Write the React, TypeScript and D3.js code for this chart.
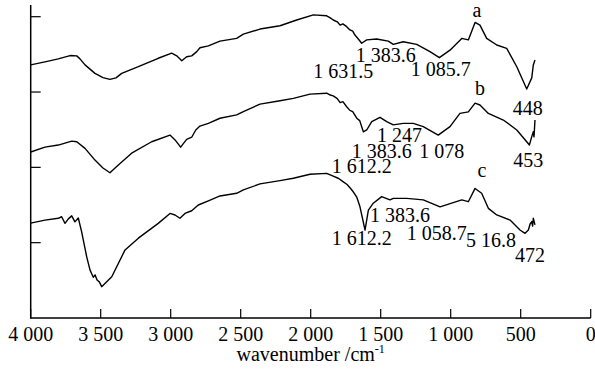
import React from "react";
import * as d3 from "d3";

// wavenumber (cm-1) and relative transmittance
const waveA = [4000,3898,3803,3719,3671,3648,3612,3541,3484,3434,3391,3350,3231,3089,2993,2957,2921,2886,2850,2814,2791,2731,2648,2529,2481,2362,2219,2100,1981,1886,1860,1839,1810,1790,1770,1743,1720,1700,1684,1660,1636,1600,1529,1446,1410,1339,1243,1148,1081,1005,921,874,826,791,743,671,600,528,457,421,410,398];
const valA  = [84.0,85.0,86.0,87.1,87.0,86.0,84.0,81.2,79.8,79.2,79.7,81.2,83.4,86.2,87.9,87.0,85.4,86.7,87.0,88.4,89.7,90.3,91.9,92.8,94.2,95.9,97.0,98.9,100.6,100.3,99.6,98.9,98.3,97.2,97.6,96.7,95.6,95.2,93.9,92.6,91.2,92.3,92.6,91.9,90.8,91.7,90.8,88.4,86.4,88.9,92.8,92.3,98.1,97.2,92.8,90.6,89.5,83.4,76.0,79.7,84.0,85.6];

const waveB = [4000,3898,3803,3707,3671,3612,3541,3484,3434,3374,3279,3136,3005,2969,2929,2886,2850,2821,2791,2731,2648,2529,2481,2362,2219,2124,2005,1886,1860,1839,1810,1790,1770,1743,1720,1700,1671,1650,1624,1600,1564,1505,1457,1410,1339,1267,1196,1089,1005,934,874,826,791,731,624,528,457,438,421,410,405,398];
const valB  = [55.1,56.7,57.4,58.7,58.5,56.3,52.4,49.8,48.2,50.8,54.7,58.5,60.7,59.1,56.7,59.3,60.0,62.4,63.7,64.6,66.3,67.4,68.5,71.0,72.1,72.9,74.3,74.6,74.0,73.7,72.8,71.5,71.8,70.1,68.9,68.5,66.3,65.5,61.8,62.4,65.2,66.6,65.2,64.1,64.6,64.6,63.5,60.7,63.5,67.9,68.4,71.3,70.7,67.9,65.7,62.4,58.5,57.4,60.2,61.8,60.1,65.7];

const waveC = [4000,3898,3803,3779,3755,3731,3707,3684,3660,3636,3600,3576,3553,3540,3526,3510,3493,3421,3326,3231,3089,3005,2969,2934,2898,2850,2803,2731,2648,2529,2481,2362,2219,2124,2005,1886,1839,1800,1767,1740,1715,1696,1670,1648,1612,1588,1553,1493,1434,1410,1314,1196,1076,993,921,874,826,779,731,671,576,505,469,445,433,421,415,410,398];
const valC  = [31.5,32.5,33.1,33.6,31.4,32.9,33.9,31.9,33.2,28.6,20.3,15.9,13.5,14.3,12.6,12.0,10.4,13.7,22.6,26.5,31.4,34.7,34.2,33.1,34.7,35.6,37.5,38.9,40.5,41.4,42.5,44.5,45.6,46.4,47.7,48.0,47.1,46.3,45.2,44.3,43.0,41.9,40.0,36.9,29.2,35.8,38.1,40.3,39.2,39.7,39.7,39.2,36.9,38.1,39.2,38.6,43.0,41.4,36.4,34.2,32.5,29.2,28.1,29.2,31.2,32.0,30.5,33.1,30.9];

const xTicks = [4000,3500,3000,2500,2000,1500,1000,500,0];
const yTicks = [25,50,75,100];

// annotation labels: text, wavenumber, value, anchor
const labelText = ["a","1 383.6","1 631.5","1 085.7","448","b","1 247","1 383.6","1 078","1 612.2","453","c","1 383.6","1 058.7","5 16.8","472","1 612.2"];
const labelWave = [812,1679,1981,1286,557,791,1526,1707,1224,1850,553,776,1576,1314,891,541,1850];
const labelVal  = [100.0,85.0,79.6,80.3,67.4,74.0,58.5,53.1,53.1,48.1,50.2,46.9,32.0,25.9,23.7,18.7,24.2];
const labelMid  = [true,false,false,false,false,true,false,false,false,false,false,true,false,false,false,false,false];

const FONT = '"Liberation Serif", "Times New Roman", Times, "DejaVu Serif", serif';

export default function App() {
  const W = 595, H = 372;
  const x = d3.scaleLinear().domain([4000, 0]).range([30.7, 590.7]);
  const y = d3.scaleLinear().domain([0, 100]).range([318, 16.7]);
  const line = d3.line<[number, number]>().x(d => x(d[0])).y(d => y(d[1]));
  const series = [
    d3.zip(waveA, valA) as [number, number][],
    d3.zip(waveB, valB) as [number, number][],
    d3.zip(waveC, valC) as [number, number][],
  ];
  const fmt = (v: number) => d3.format(",")(v).replace(/,/g, " ");
  const x0 = x(4000), y0 = y(0), yTop = y(103.9);
  const textStyle = { fontFamily: FONT, fontSize: "20px" };
  return (
    <div style={{ position: "absolute", left: 0, top: 0 }}>
      <svg width={W} height={H} style={{ display: "block", background: "#fff" }}>
        <g stroke="#000" strokeWidth={1.5} fill="none">
          <line x1={x0} x2={x0} y1={yTop} y2={y0 + 0.75} />
          <line x1={x0} x2={x(0)} y1={y0} y2={y0} />
          {xTicks.map(t => (
            <line key={t} x1={x(t)} x2={x(t)} y1={y0} y2={y0 - 9} strokeWidth={1.2} />
          ))}
          {yTicks.map(t => (
            <line key={t} x1={x0} x2={x0 + 10} y1={y(t)} y2={y(t)} strokeWidth={1.2} />
          ))}
        </g>
        <g fill="none" stroke="#000" strokeWidth={1.4} strokeLinejoin="round">
          {series.map((s, i) => <path key={i} d={line(s) || ""} />)}
        </g>
        <g style={textStyle} fill="#000">
          {xTicks.map(t => (
            <text key={t} x={x(t)} y={y0 + 23} textAnchor="middle" style={textStyle}>{fmt(t)}</text>
          ))}
          <text x={(x0 + x(0)) / 2} y={y0 + 43} textAnchor="middle" style={textStyle}>
            wavenumber /cm<tspan style={{ fontSize: "12px" }} dy={-8}>-1</tspan>
          </text>
          {labelText.map((t, i) => (
            <text key={i} x={x(labelWave[i])} y={y(labelVal[i])} textAnchor={labelMid[i] ? "middle" : "start"} style={textStyle}>{t}</text>
          ))}
        </g>
      </svg>
    </div>
  );
}
